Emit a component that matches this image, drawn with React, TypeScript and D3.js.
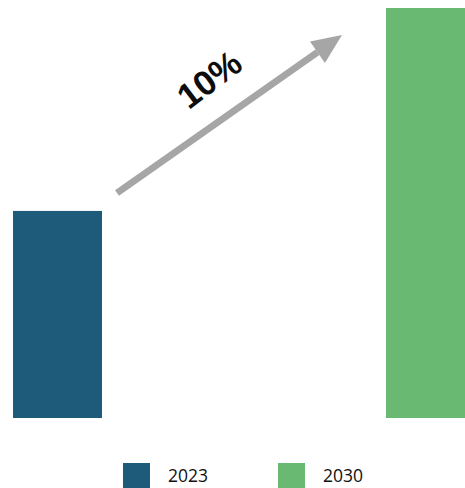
import React from "react";
import * as d3 from "d3";

const categories = ["2023", "2030"];
const values = [50.5, 100];
const colors = ["#1e5a7a", "#69b972"];
const cagrLabel = "10%";

const W = 465;
const H = 488;

export default function App() {
  const x = d3
    .scaleBand<string>()
    .domain(categories)
    .range([0, 488])
    .paddingInner(0.7614)
    .paddingOuter(0.0349);
  const y = d3.scaleLinear().domain([0, 100]).range([418, 8]);

  const x0 = 117, y0 = 193, x1 = 342, y1 = 35;
  const ang = Math.atan2(y1 - y0, x1 - x0);
  const headLen = 30, headW = 13;
  const bx = x1 - headLen * Math.cos(ang);
  const by = y1 - headLen * Math.sin(ang);
  const px = -Math.sin(ang), py = Math.cos(ang);
  const head = `M${x1},${y1} L${bx + px * headW},${by + py * headW} L${bx - px * headW},${by - py * headW} Z`;
  const deg = (ang * 180) / Math.PI;

  const legendX = [123, 278];
  const tx = 209, ty = 79;

  return (
    <svg
      width={W}
      height={H}
      style={{ position: "fixed", left: 0, top: 0, background: "#fff" }}
      fontFamily="'Open Sans', sans-serif"
    >
      {categories.map((c, i) => (
        <rect
          key={c}
          x={x(c)}
          y={y(values[i])}
          width={x.bandwidth()}
          height={y(0) - y(values[i])}
          fill={colors[i]}
        />
      ))}
      <line x1={x0} y1={y0} x2={bx} y2={by} stroke="#a6a6a6" strokeWidth={7} />
      <path d={head} fill="#a6a6a6" />
      <text
        x={tx}
        y={ty}
        dy="0.36em"
        transform={`rotate(${deg - 2}, ${tx}, ${ty})`}
        textAnchor="middle"
        fontWeight={700}
        fontSize={35}
        fontFamily="'Liberation Sans', Arial, sans-serif"
        fill="#0d0d0d"
      >
        {cagrLabel}
      </text>
      {categories.map((c, i) => (
        <g key={"lg" + c}>
          <rect x={legendX[i]} y={463} width={27} height={27} fill={colors[i]} />
          <text x={legendX[i] + 45} y={482} fontSize={17.5} fill="#111">
            {c}
          </text>
        </g>
      ))}
    </svg>
  );
}
